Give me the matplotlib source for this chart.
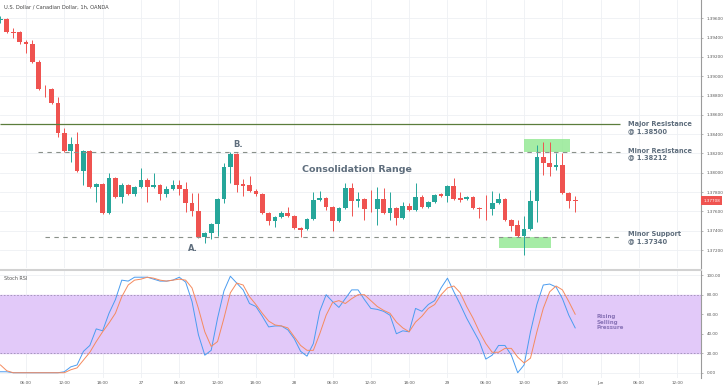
import matplotlib
matplotlib.use("Agg")
import matplotlib.pyplot as plt
from matplotlib.patches import Rectangle

# hourly bars, index = hours since 26 May 00:00 (weekend skipped)
hours = list(range(2, 93))
opens = [1.39582, 1.39593, 1.39458, 1.39458, 1.39354, 1.39334, 1.39147, 1.38868, 1.38868, 1.38723,
         1.38412, 1.38225, 1.38298, 1.38018, 1.38225, 1.37852, 1.37884, 1.37583, 1.37946, 1.37749,
         1.37873, 1.37780, 1.37852, 1.37925, 1.37852, 1.37873, 1.37780, 1.37832, 1.37873, 1.37832,
         1.37687, 1.37604, 1.37335, 1.37376, 1.37469, 1.37728, 1.38060, 1.38194, 1.37884, 1.37873,
         1.37811, 1.37780, 1.37583, 1.37500, 1.37542, 1.37583, 1.37552, 1.37428, 1.37418, 1.37521,
         1.37718, 1.37739, 1.37645, 1.37500, 1.37635, 1.37842, 1.37708, 1.37728, 1.37625, 1.37625,
         1.37728, 1.37583, 1.37635, 1.37531, 1.37656, 1.37614, 1.37749, 1.37645, 1.37697, 1.37780,
         1.37759, 1.37863, 1.37739, 1.37728, 1.37749, 1.37635, 1.37625, 1.37625, 1.37687, 1.37728,
         1.37511, 1.37459, 1.37345, 1.37418, 1.37708, 1.38163, 1.38101, 1.38060, 1.38080, 1.37790,
         1.37718]
highs = [1.39624, 1.39603, 1.39499, 1.39468, 1.39375, 1.39375, 1.39168, 1.38909, 1.38878, 1.38785,
         1.38464, 1.38370, 1.38422, 1.38236, 1.38236, 1.37894, 1.37894, 1.37998, 1.37956, 1.37894,
         1.37884, 1.37863, 1.38049, 1.37946, 1.37998, 1.37884, 1.37863, 1.37925, 1.37925, 1.37904,
         1.37790, 1.37790, 1.37387, 1.37480, 1.37739, 1.38101, 1.38215, 1.38205, 1.37935, 1.37966,
         1.37832, 1.37790, 1.37594, 1.37552, 1.37604, 1.37645, 1.37563, 1.37438, 1.37531, 1.37801,
         1.37811, 1.37749, 1.37656, 1.37645, 1.37894, 1.37894, 1.37801, 1.37739, 1.37821, 1.37852,
         1.37842, 1.37801, 1.37645, 1.37697, 1.37687, 1.37894, 1.37770, 1.37708, 1.37780, 1.37790,
         1.37873, 1.37946, 1.37801, 1.37759, 1.37759, 1.37645, 1.37770, 1.37811, 1.37790, 1.37739,
         1.37521, 1.37511, 1.37552, 1.37821, 1.38288, 1.38319, 1.38319, 1.38205, 1.38205, 1.37801,
         1.37759]
lows = [1.39551, 1.39448, 1.39396, 1.39334, 1.39241, 1.39137, 1.38857, 1.38785, 1.38712, 1.38370,
        1.38215, 1.38112, 1.38008, 1.37873, 1.37842, 1.37697, 1.37573, 1.37573, 1.37739, 1.37687,
        1.37770, 1.37759, 1.37842, 1.37697, 1.37842, 1.37718, 1.37749, 1.37821, 1.37770, 1.37594,
        1.37552, 1.37324, 1.37273, 1.37314, 1.37345, 1.37687, 1.37894, 1.37801, 1.37759, 1.37801,
        1.37759, 1.37573, 1.37459, 1.37438, 1.37531, 1.37542, 1.37418, 1.37335, 1.37407, 1.37511,
        1.37708, 1.37614, 1.37397, 1.37490, 1.37625, 1.37552, 1.37645, 1.37511, 1.37594, 1.37459,
        1.37573, 1.37511, 1.37459, 1.37521, 1.37604, 1.37604, 1.37635, 1.37635, 1.37687, 1.37749,
        1.37697, 1.37718, 1.37697, 1.37718, 1.37625, 1.37531, 1.37511, 1.37563, 1.37676, 1.37500,
        1.37397, 1.37335, 1.37148, 1.37407, 1.37490, 1.37977, 1.37966, 1.38029, 1.37780, 1.37635,
        1.37594]
closes = [1.39593, 1.39458, 1.39448, 1.39354, 1.39334, 1.39147, 1.38868, 1.38863, 1.38723, 1.38412,
          1.38225, 1.38298, 1.38018, 1.38225, 1.37852, 1.37884, 1.37583, 1.37946, 1.37749, 1.37873,
          1.37780, 1.37852, 1.37925, 1.37852, 1.37873, 1.37780, 1.37832, 1.37873, 1.37832, 1.37687,
          1.37604, 1.37335, 1.37376, 1.37469, 1.37728, 1.38060, 1.38194, 1.37873, 1.37863, 1.37811,
          1.37780, 1.37583, 1.37500, 1.37542, 1.37583, 1.37552, 1.37428, 1.37407, 1.37521, 1.37718,
          1.37739, 1.37645, 1.37500, 1.37635, 1.37842, 1.37708, 1.37728, 1.37625, 1.37622, 1.37728,
          1.37583, 1.37635, 1.37531, 1.37656, 1.37614, 1.37749, 1.37645, 1.37697, 1.37770, 1.37759,
          1.37863, 1.37728, 1.37718, 1.37749, 1.37635, 1.37625, 1.37622, 1.37687, 1.37728, 1.37511,
          1.37449, 1.37345, 1.37418, 1.37708, 1.38163, 1.38101, 1.38060, 1.38080, 1.37790, 1.37708,
          1.37708]

stoch_k = [1, 1, 0, 0, 0, 0, 0, 0, 0, 0, 1, 6, 8, 22, 28, 45, 43, 61, 75, 95,
           94, 98, 98, 98, 96, 94, 94, 95, 98, 93, 73, 39, 18, 23, 56, 84, 99, 92, 85, 71,
           68, 58, 47, 48, 48, 44, 35, 22, 17, 30, 63, 80, 73, 67, 76, 85, 85, 75, 66, 65,
           63, 59, 40, 43, 42, 66, 63, 70, 74, 87, 97, 83, 70, 56, 44, 32, 14, 18, 28, 28,
           18, 0, 8, 42, 70, 90, 91, 88, 76, 59, 46]
stoch_d = [8, 2, 0, 0, 0, 0, 0, 0, 0, 0, 0, 3, 5, 13, 21, 32, 42, 51, 61, 78,
           90, 95, 96, 98, 97, 95, 94, 95, 96, 95, 87, 66, 42, 27, 32, 56, 82, 92, 90, 78,
           70, 61, 53, 49, 48, 46, 37, 28, 23, 23, 40, 59, 72, 74, 71, 76, 80, 80, 74, 68,
           64, 61, 52, 46, 42, 52, 58, 66, 70, 80, 87, 89, 82, 68, 56, 42, 30, 21, 21, 25,
           25, 16, 10, 15, 42, 66, 83, 89, 85, 73, 60]

tick_pos = [6, 12, 18, 24, 30, 36, 42, 48, 54, 60, 66, 72, 78, 84, 90, 96, 102, 108]
tick_lbl = ["06:00", "12:00", "18:00", "27", "06:00", "12:00", "18:00", "28", "06:00",
            "12:00", "18:00", "29", "06:00", "12:00", "18:00", "Jun", "06:00", "12:00"]
price_ticks = [1.372, 1.374, 1.376, 1.378, 1.380, 1.382, 1.384, 1.386, 1.388, 1.390, 1.392, 1.394, 1.396]
rsi_ticks = [0, 20, 40, 60, 80, 100]

major_res = 1.38500
minor_res = 1.38212
minor_sup = 1.37340
last_price = 1.37708
# highlight boxes: (x0, x1, low, high)
boxes = [(84.0, 91.2, 1.38215, 1.38350), (80.1, 88.2, 1.37221, 1.37335)]

up_col = "#26a69a"
dn_col = "#ef5350"
txt_col = "#5f6e7d"
grid_col = "#eef0f4"

fig = plt.figure(figsize=(7.28, 3.91), dpi=100)
ax = fig.add_axes([0, 1 - 268 / 391, 701 / 728, 268 / 391])
ax2 = fig.add_axes([0, 1 - 378 / 391, 701 / 728, 108 / 391])

for a in (ax, ax2):
    a.set_xlim(1.93, 111.7)
    for s in ("top", "left", "bottom"):
        a.spines[s].set_visible(False)
    a.spines["right"].set_color("#9a9a9a")
    a.spines["right"].set_linewidth(0.8)
    a.yaxis.tick_right()
    a.set_xticks(tick_pos)
    a.grid(True, color=grid_col, linewidth=0.6)
    a.set_axisbelow(True)
    a.tick_params(axis="y", length=1.5, width=0.5, colors="#9a9a9a", labelcolor="#555555",
                  labelsize=3, pad=2.5)

ax.set_ylim(1.37014, 1.39789)
ax.set_yticks(price_ticks)
ax.set_yticklabels(["%.5f" % p for p in price_ticks])
ax.tick_params(axis="x", length=0, labelbottom=False)

# candles
for i in range(len(hours)):
    col = up_col if closes[i] >= opens[i] else dn_col
    ax.vlines(hours[i], lows[i], highs[i], color=col, linewidth=0.7, zorder=3)
    lo = min(opens[i], closes[i])
    h = max(abs(closes[i] - opens[i]), 0.00008)
    ax.add_patch(Rectangle((hours[i] - 0.37, lo), 0.74, h, facecolor=col, edgecolor="none", zorder=4))

for x0, x1, b0, b1 in boxes:
    ax.add_patch(Rectangle((x0, b0), x1 - x0, b1 - b0, facecolor="#8fe88f", edgecolor="none",
                           alpha=0.8, zorder=2))

ax.hlines(major_res, 1.93, 99, color="#5b7d3c", linewidth=0.9, zorder=5)
ax.hlines(minor_res, 7.9, 99, color="#8a918a", linewidth=0.8, linestyles=(0, (4, 4)), zorder=5)
ax.hlines(minor_sup, 9, 99, color="#8a918a", linewidth=0.8, linestyles=(0, (4, 4)), zorder=5)

ax.text(100.3, 1.38469, "Major Resistance\n@ 1.38500", fontsize=4.8, fontweight="bold",
        color=txt_col, va="center", ha="left", linespacing=1.05)
ax.text(100.3, 1.38195, "Minor Resistance\n@ 1.38212", fontsize=4.8, fontweight="bold",
        color=txt_col, va="center", ha="left", linespacing=1.05)
ax.text(100.3, 1.37329, "Minor Support\n@ 1.37340", fontsize=4.8, fontweight="bold",
        color=txt_col, va="center", ha="left", linespacing=1.05)
ax.text(57.8, 1.38029, "Consolidation Range", fontsize=6.8, fontweight="bold",
        color=txt_col, va="center", ha="center")
ax.text(39.2, 1.38288, "B.", fontsize=6, fontweight="bold", color=txt_col, va="center", ha="center")
ax.text(32.2, 1.37221, "A.", fontsize=6, fontweight="bold", color=txt_col, va="center", ha="center")
ax.text(0.0057, 0.974, "U.S. Dollar / Canadian Dollar, 1h, OANDA", transform=ax.transAxes,
        fontsize=3.7, color="#444444", va="center", ha="left")
ax.text(1.003, last_price, "1.37708", transform=ax.get_yaxis_transform(), fontsize=3,
        color="white", va="center", ha="left",
        bbox=dict(boxstyle="square,pad=0.6", facecolor=dn_col, edgecolor="none"))

# stoch rsi panel
ax2.set_ylim(-5.4, 105.4)
ax2.set_yticks(rsi_ticks)
ax2.set_yticklabels(["%.2f" % v for v in rsi_ticks])
ax2.spines["top"].set_visible(True)
ax2.spines["top"].set_color("#d2d2d2")
ax2.spines["top"].set_linewidth(1.5)
ax2.axhspan(20, 80, color="#e2c9f9", zorder=1)
ax2.axhline(80, color="#9c8fb4", linewidth=0.6, linestyle=(0, (2, 2)), zorder=2)
ax2.axhline(20, color="#9c8fb4", linewidth=0.6, linestyle=(0, (2, 2)), zorder=2)
ax2.plot(hours, stoch_k, color="#4a9cf0", linewidth=0.7, zorder=3)
ax2.plot(hours, stoch_d, color="#f58a5e", linewidth=0.7, zorder=3)
ax2.set_xticklabels(tick_lbl)
ax2.tick_params(axis="x", length=0, labelsize=3, labelcolor="#555555", pad=2.5)
ax2.text(0.0057, 97, "Stoch RSI", transform=ax2.get_yaxis_transform(), fontsize=3.5,
         color="#555555", va="center", ha="left")
ax2.text(95.3, 52, "Rising\nSelling\nPressure", fontsize=4, fontweight="bold", color="#8a74b8",
         va="center", ha="left", linespacing=1.05)

fig.savefig("out.png", dpi=100)
